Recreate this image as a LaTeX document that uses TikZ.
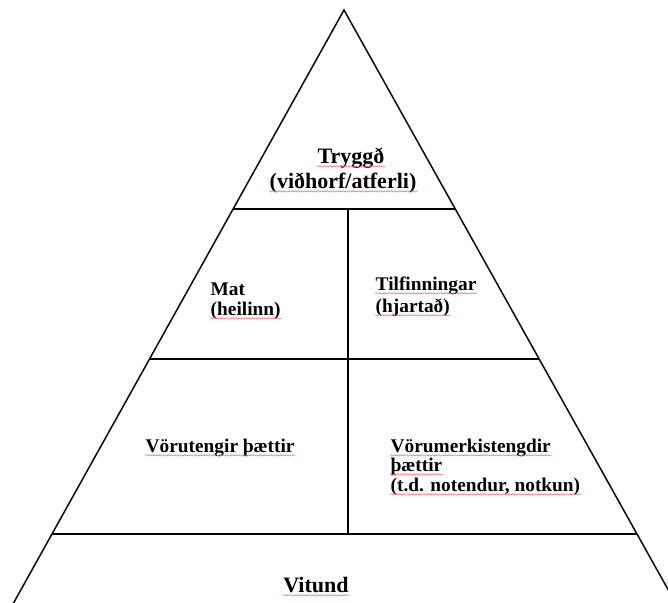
\documentclass[tikz,border=0pt]{standalone}
\usepackage{fontspec}
\setmainfont{Liberation Serif}
\usetikzlibrary{calc, decorations.pathmorphing}
\tikzset{
    pyramid/.style={x=0.75pt, y=-0.75pt, line width=1.1pt},
    bigtext/.style={inner sep=0pt, anchor=base, font=\fontsize{16.5}{19}\selectfont\bfseries},
    smalltext/.style={inner sep=0pt, anchor=base west, font=\fontsize{14.5}{17}\selectfont\bfseries},
    % red spell-check waves under the words
    squiggle/.style={draw=red!60, line width=0.4pt, decorate,
        decoration={snake, amplitude=0.5pt, segment length=2.4pt}},
}

\begin{document}
\begin{tikzpicture}[pyramid]
    \useasboundingbox (0,0) rectangle (668,603);
    \clip (0,0) rectangle (668,603);

    \coordinate (apex) at (344,10);
    \coordinate (bl)   at (52,534);
    \coordinate (br)   at (637,534);
    \coordinate (l1)   at ($(apex)!0.38!(bl)$);
    \coordinate (r1)   at ($(apex)!0.38!(br)$);
    \coordinate (l2)   at ($(apex)!0.666!(bl)$);
    \coordinate (r2)   at ($(apex)!0.666!(br)$);
    \coordinate (m1)   at (348,209);
    \coordinate (m3)   at (348,534);

    % sides run out past the lower edge
    \draw ($(apex)!1.2!(bl)$) -- (apex) -- ($(apex)!1.2!(br)$);
    \draw (l1) -- (r1);
    \draw (l2) -- (r2);
    \draw (bl) -- (br);
    \draw (m1) -- (m3);

    \node[bigtext]   (tryggd)   at (351,163) {Tryggð};
    \node[bigtext]   (vidhorf)  at (343,188) {(viðhorf/atferli)};
    \node[smalltext] (mat)      at (210,295) {Mat};
    \node[smalltext] (heilinn)  at (210,315) {(heilinn)};
    \node[smalltext] (tilf)     at (375,290) {Tilfinningar};
    \node[smalltext] (hjarta)   at (375,312) {(hjartað)};
    \node[smalltext] (voru)     at (145,452) {Vörutengir þættir};
    \node[smalltext] (vorum)    at (390,452) {Vörumerkistengdir};
    \node[smalltext] (thaettir) at (390,471) {þættir};
    \node[smalltext] (tdnot)    at (390,491) {(t.d. notendur, notkun)};
    \node[bigtext]   (vitund)   at (316,592) {Vitund};

    \foreach \n in {tryggd, vidhorf, heilinn, tilf, hjarta, voru, vorum, thaettir, tdnot, vitund}
        \draw[squiggle] ([yshift=-2.5pt]\n.base west) -- ([yshift=-2.5pt]\n.base east);
\end{tikzpicture}
\end{document}
